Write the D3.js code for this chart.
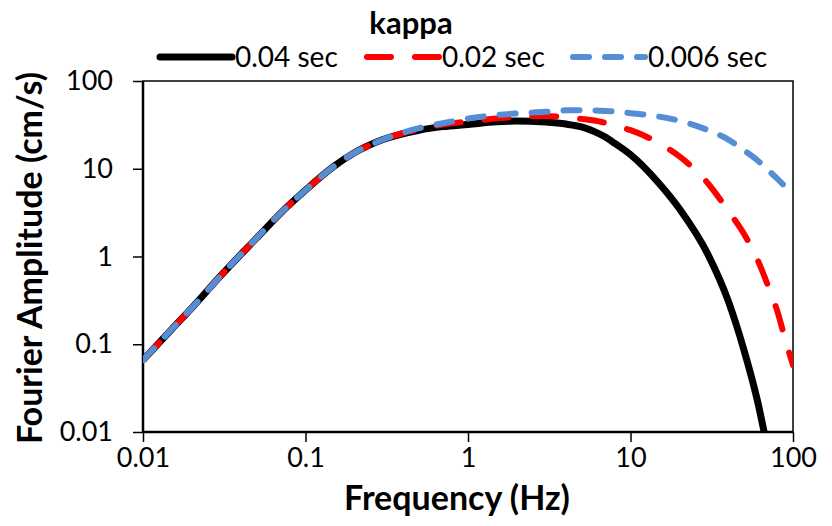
<!DOCTYPE html>
<html>
<head>
<meta charset="utf-8">
<script src="https://cdn.jsdelivr.net/npm/d3@7"></script>
<style>
  body { margin: 0; background: #fff; }
  svg { display: block; font-family: Lato, "Open Sans", sans-serif; }
</style>
</head>
<body>
<div id="chart"></div>
<script>
// frequencies (Hz) shared by all three curves
const freq = [0.01, 0.015, 0.02, 0.03, 0.05, 0.07, 0.1, 0.15, 0.2, 0.3, 0.5, 0.7, 1, 1.5, 2, 3, 4, 5, 6, 7, 8, 10, 15, 20, 30, 40, 50, 60, 70, 80, 90, 100];

// Fourier amplitude (cm/s), one list per kappa
const amp004 = [0.066, 0.148, 0.26, 0.6, 1.62, 3.1, 5.7, 10.7, 15.2, 21.5, 27.5, 30.2, 32, 34.3, 35, 34, 32.3, 30, 26.5, 23, 19.5, 14.5, 6.8, 3.5, 1.05, 0.31, 0.085, 0.024, 0.0062, null, null, null];
const amp002 = [0.066, 0.148, 0.26, 0.6, 1.62, 3.1, 5.7, 10.7, 15.2, 21.5, 28.3, 32, 34.5, 37.5, 39, 39.8, 38.5, 37, 35.5, 33.3, 31, 27.5, 19.5, 13.8, 6.8, 3.3, 1.8, 0.95, 0.47, 0.24, 0.11, 0.058];
const amp0006 = [0.066, 0.148, 0.26, 0.6, 1.62, 3.1, 5.7, 10.7, 15.2, 21.5, 29, 33, 37.3, 41, 42.7, 44.5, 46.3, 46.5, 46.2, 45.6, 44.8, 43, 39.3, 35.2, 27.5, 21.5, 16.2, 12.6, 9.7, 7.7, 6.2, 5.0];

const seriesNames = ["0.04 sec", "0.02 sec", "0.006 sec"];
const xTicks = [0.01, 0.1, 1, 10, 100];
const yTicks = [0.01, 0.1, 1, 10, 100];

const width = 832, height = 526;
const plot = { left: 143, right: 793, top: 81, bottom: 432 };

const svg = d3.select("#chart").append("svg")
  .attr("width", width)
  .attr("height", height);

const x = d3.scaleLog().domain([0.01, 100]).range([plot.left, plot.right]);
const y = d3.scaleLog().domain([0.01, 100]).range([plot.bottom, plot.top]);

const fmt = d => (d >= 1 ? d3.format("d")(d) : String(d));

//plot frame (top + right)
svg.append("rect")
  .attr("x", plot.left).attr("y", plot.top)
  .attr("width", plot.right - plot.left).attr("height", plot.bottom - plot.top)
  .attr("fill", "none").attr("stroke", "#000").attr("stroke-width", 1.5);

//axes
const xAxis = svg.append("g")
  .attr("transform", `translate(0,${plot.bottom})`)
  .call(d3.axisBottom(x).tickValues(xTicks).tickFormat(fmt).tickSize(10).tickPadding(6));
const yAxis = svg.append("g")
  .attr("transform", `translate(${plot.left},0)`)
  .call(d3.axisLeft(y).tickValues(yTicks).tickFormat(fmt).tickSize(10).tickPadding(20));

[xAxis, yAxis].forEach(g => {
  g.select(".domain").attr("stroke", "#000").attr("stroke-width", 2.5);
  g.selectAll(".tick line").attr("stroke", "#000").attr("stroke-width", 1.5);
  g.selectAll(".tick text").attr("font-size", 27).attr("fill", "#000")
    .attr("font-family", "Lato, sans-serif");
});
xAxis.select(".domain").attr("d", `M${plot.left},0H${plot.right}`);
yAxis.select(".domain").attr("d", `M0,${plot.bottom}V${plot.top}`);

//curves
const series = [
  { name: seriesNames[0], values: amp004, color: "#000000", width: 7, dash: null },
  { name: seriesNames[1], values: amp002, color: "#ff0000", width: 6, dash: "24,24" },
  { name: seriesNames[2], values: amp0006, color: "#558ed5", width: 6, dash: "16,16" }
];

svg.append("clipPath").attr("id", "clip")
  .append("rect")
  .attr("x", plot.left).attr("y", plot.top)
  .attr("width", plot.right - plot.left).attr("height", plot.bottom - plot.top);

const line = d3.line()
  .defined(d => d[1] != null)
  .x(d => x(d[0]))
  .y(d => y(d[1]))
  .curve(d3.curveMonotoneX);

const lines = svg.append("g").attr("clip-path", "url(#clip)");
series.forEach(s => {
  lines.append("path")
    .datum(freq.map((f, i) => [f, s.values[i]]))
    .attr("fill", "none")
    .attr("stroke", s.color)
    .attr("stroke-width", s.width)
    .attr("stroke-linecap", s.dash ? "round" : "butt")
    .attr("stroke-linejoin", "round")
    .attr("stroke-dasharray", s.dash)
    .attr("d", line);
});

//title + legend
svg.append("text")
  .attr("x", 411).attr("y", 34)
  .attr("text-anchor", "middle")
  .attr("font-size", 31).attr("font-weight", "bold")
  .text("kappa");

const legendX = [160, 367, 573];
series.forEach((s, i) => {
  const g = svg.append("g").attr("transform", `translate(${legendX[i]},57)`);
  g.append("line")
    .attr("x1", 0).attr("x2", 72).attr("y1", 0).attr("y2", 0)
    .attr("stroke", s.color)
    .attr("stroke-width", s.width)
    .attr("stroke-linecap", "round")
    .attr("stroke-dasharray", s.dash);
  g.append("text")
    .attr("x", 75).attr("y", 10)
    .attr("font-size", 28)
    .text(s.name);
});

//axis titles
svg.append("text")
  .attr("x", 457).attr("y", 510)
  .attr("text-anchor", "middle")
  .attr("font-size", 34).attr("font-weight", "bold")
  .text("Frequency (Hz)");

svg.append("text")
  .attr("transform", "translate(42,258) rotate(-90)")
  .attr("text-anchor", "middle")
  .attr("font-size", 34).attr("font-weight", "bold")
  .text("Fourier Amplitude (cm/s)");
</script>
</body>
</html>
